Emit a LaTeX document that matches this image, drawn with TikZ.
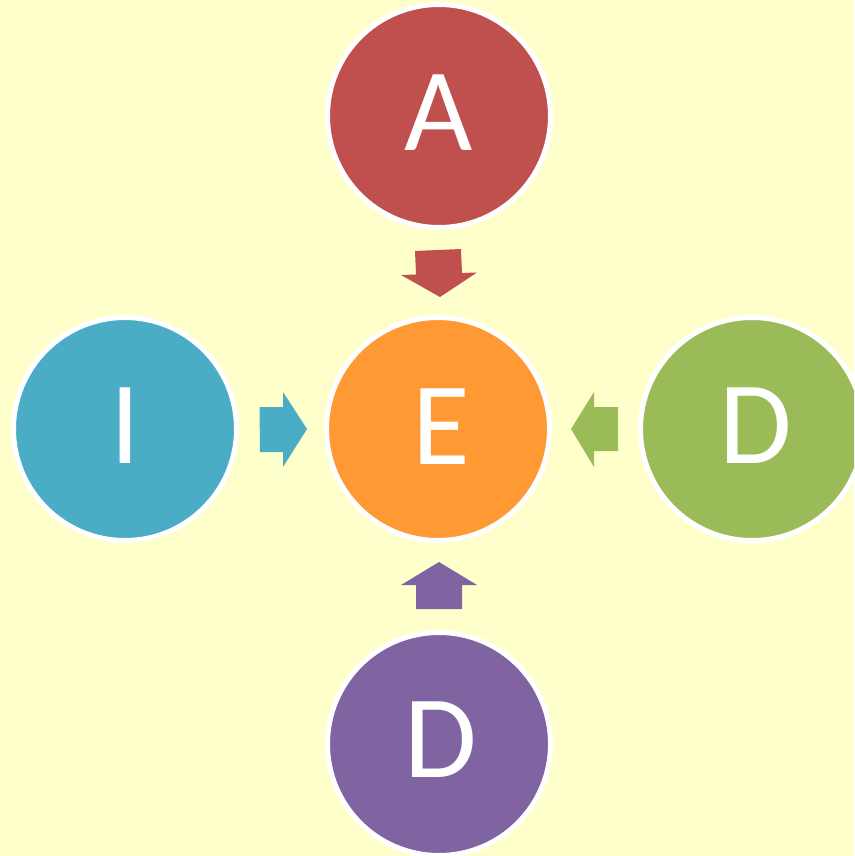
\documentclass[tikz,border=0pt]{standalone}
\usepackage{fontspec}
\setmainfont{Carlito}
\definecolor{bg}{HTML}{FFFFCC}
\definecolor{cred}{HTML}{C0504D}
\definecolor{corange}{HTML}{FF9933}
\definecolor{cblue}{HTML}{4BACC6}
\definecolor{cgreen}{HTML}{9BBB59}
\definecolor{cpurple}{HTML}{8064A2}
\begin{document}
\begin{tikzpicture}[x=1pt,y=-1pt,
  bubble/.style={circle,draw=white,line width=5pt,minimum size=223pt,inner sep=0pt},
  letter/.style={text=white,font=\fontsize{118}{118}\selectfont,anchor=base,inner sep=0pt}]
\useasboundingbox[fill=bg] (0,0) rectangle (854,856);
\begin{scope}
\clip (0,0) rectangle (854,856);
\node[bubble,fill=cred]    (A)  at (439,116) {};
\node[bubble,fill=corange] (E)  at (438,429) {};
\node[bubble,fill=cblue]   (I)  at (125,429) {};
\node[bubble,fill=cgreen]  (D1) at (752,429) {};
\node[bubble,fill=cpurple] (D2) at (439,744) {};
\end{scope}
\node[letter] (tA)  at ([yshift=-34pt]A.center)  {A};
\node[letter] (tE)  at ([yshift=-35pt,xshift=3pt]E.center)  {E};
\node[letter] (tI)  at ([yshift=-34pt]I.center)  {I};
\node[letter] (tD1) at ([yshift=-34pt,xshift=4pt]D1.center) {D};
\node[letter] (tD2) at ([yshift=-33pt,xshift=2pt]D2.center) {D};
% block arrows
\fill[cred] (415,251) -- (461,249) -- (462,273) -- (477,272.5) -- (440,297) -- (401,275) -- (416,274.5) -- cycle;
\fill[cblue] (259.5,407) -- (283,407) -- (283,392) -- (307,429) -- (283,467) -- (283,452) -- (260,452) -- cycle;
\fill[cgreen] (618,407) -- (594,407) -- (594,392) -- (571,429) -- (594,467) -- (594,451) -- (618,451) -- cycle;
\fill[cpurple] (439,562) -- (477,585) -- (462,585) -- (462,609) -- (416,609) -- (416,585) -- (401,585) -- cycle;
\end{tikzpicture}
\end{document}
